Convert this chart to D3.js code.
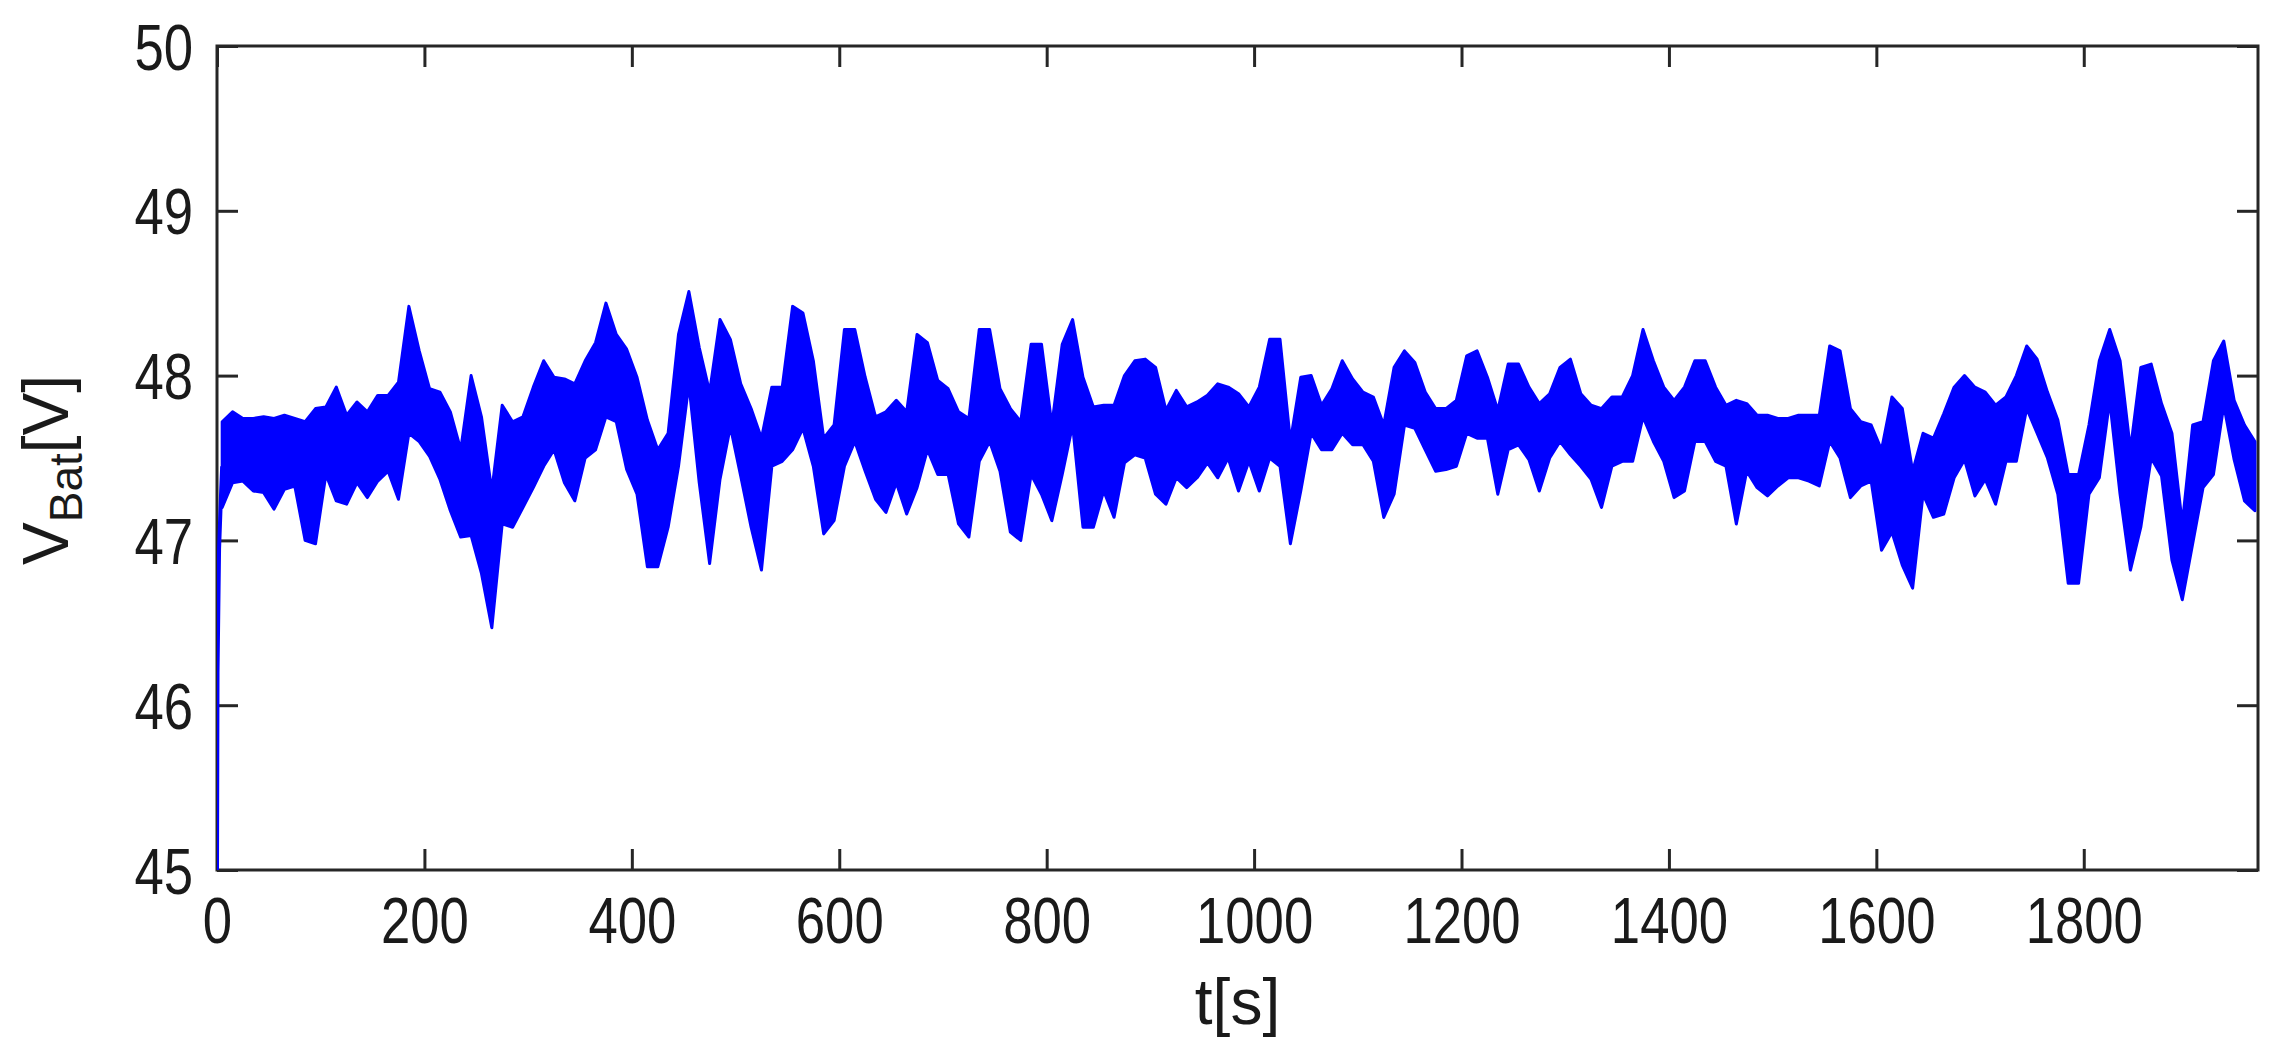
<!DOCTYPE html>
<html><head><meta charset="utf-8">
<script src="https://cdn.jsdelivr.net/npm/d3@7"></script>
<style>html,body{margin:0;padding:0;background:#fff;} svg{display:block;}</style>
</head><body><svg id="chart" width="2277" height="1053"></svg>
<script>
// ---- data (10 s bins: min / max of the noisy battery voltage) ----
const binStart = [0,10,20,30,40,50,60,70,80,90,100,110,120,130,140,150,160,170,180,190,
200,210,220,230,240,250,260,270,280,290,300,310,320,330,340,350,360,370,380,390,
400,410,420,430,440,450,460,470,480,490,500,510,520,530,540,550,560,570,580,590,
600,610,620,630,640,650,660,670,680,690,700,710,720,730,740,750,760,770,780,790,
800,810,820,830,840,850,860,870,880,890,900,910,920,930,940,950,960,970,980,990,
1000,1010,1020,1030,1040,1050,1060,1070,1080,1090,1100,1110,1120,1130,1140,1150,1160,1170,1180,1190,
1200,1210,1220,1230,1240,1250,1260,1270,1280,1290,1300,1310,1320,1330,1340,1350,1360,1370,1380,1390,
1400,1410,1420,1430,1440,1450,1460,1470,1480,1490,1500,1510,1520,1530,1540,1550,1560,1570,1580,1590,
1600,1610,1620,1630,1640,1650,1660,1670,1680,1690,1700,1710,1720,1730,1740,1750,1760,1770,1780,1790,
1800,1810,1820,1830,1840,1850,1860,1870,1880,1890,1900,1910,1920,1930,1940,1950,1960];
const vMax = [47.72,47.78,47.74,47.74,47.75,47.74,47.76,47.74,47.72,47.80,47.81,47.93,47.76,47.84,47.78,47.88,47.88,47.96,48.42,48.15,
47.92,47.90,47.78,47.55,48.00,47.75,47.30,47.82,47.72,47.75,47.93,48.09,47.99,47.98,47.95,48.09,48.20,48.44,48.25,48.16,
47.99,47.73,47.55,47.65,48.25,48.51,48.17,47.90,48.34,48.22,47.95,47.80,47.62,47.93,47.93,48.42,48.38,48.09,47.62,47.70,
48.28,48.28,47.99,47.75,47.78,47.85,47.78,48.25,48.20,47.97,47.92,47.78,47.74,48.28,48.28,47.92,47.80,47.72,48.19,48.19,
47.70,48.19,48.34,47.99,47.81,47.82,47.82,48.00,48.09,48.10,48.05,47.79,47.91,47.81,47.84,47.88,47.95,47.93,47.89,47.81,
47.93,48.22,48.22,47.60,47.99,48.00,47.82,47.92,48.09,47.98,47.90,47.87,47.70,48.05,48.15,48.08,47.90,47.80,47.80,47.85,
48.12,48.15,47.99,47.79,48.07,48.07,47.93,47.83,47.89,48.05,48.10,47.89,47.82,47.80,47.87,47.87,48.00,48.28,48.09,47.93,
47.85,47.93,48.09,48.09,47.93,47.82,47.85,47.83,47.76,47.76,47.74,47.74,47.76,47.76,47.76,48.18,48.15,47.80,47.72,47.70,
47.55,47.87,47.80,47.42,47.65,47.62,47.77,47.93,48.00,47.93,47.90,47.82,47.87,48.00,48.18,48.10,47.90,47.73,47.40,47.40,
47.70,48.09,48.28,48.09,47.55,48.05,48.07,47.83,47.65,47.10,47.70,47.72,48.09,48.21,47.85,47.70,47.60];
const vMin = [47.20,47.35,47.36,47.30,47.29,47.19,47.31,47.33,47.00,46.98,47.40,47.24,47.22,47.35,47.26,47.36,47.42,47.25,47.65,47.60,
47.51,47.37,47.18,47.02,47.03,46.80,46.47,47.10,47.08,47.20,47.32,47.45,47.55,47.35,47.24,47.50,47.55,47.75,47.72,47.43,
47.28,46.84,46.84,47.08,47.45,47.95,47.35,46.86,47.37,47.69,47.39,47.08,46.82,47.45,47.48,47.55,47.68,47.45,47.04,47.12,
47.45,47.60,47.42,47.25,47.17,47.35,47.16,47.32,47.55,47.40,47.40,47.10,47.02,47.48,47.60,47.42,47.05,47.00,47.40,47.28,
47.12,47.40,47.70,47.08,47.08,47.30,47.14,47.47,47.52,47.50,47.28,47.22,47.38,47.32,47.38,47.47,47.38,47.50,47.30,47.48,
47.30,47.50,47.45,46.98,47.30,47.65,47.55,47.55,47.65,47.58,47.58,47.48,47.14,47.28,47.70,47.68,47.55,47.42,47.43,47.45,
47.65,47.62,47.62,47.28,47.55,47.58,47.49,47.30,47.50,47.60,47.52,47.45,47.37,47.20,47.45,47.48,47.48,47.75,47.60,47.48,
47.26,47.30,47.60,47.60,47.48,47.45,47.10,47.42,47.32,47.27,47.33,47.38,47.38,47.36,47.33,47.60,47.50,47.26,47.33,47.36,
46.94,47.05,46.85,46.71,47.28,47.14,47.16,47.38,47.49,47.27,47.37,47.22,47.48,47.48,47.80,47.65,47.50,47.28,46.74,46.74,
47.28,47.38,47.85,47.28,46.82,47.08,47.50,47.39,46.88,46.64,46.98,47.32,47.40,47.82,47.49,47.24,47.18];
// start-up transient at the very left edge
const startT = [0, 0.5, 2, 4, 5];
const startV = [45.0, 46.2, 46.95, 47.3, 47.45];
const binWidth = 10;
const xTicks = [0,200,400,600,800,1000,1200,1400,1600,1800];
const yTicks = [45,46,47,48,49,50];
const xDomain = [0, 1968];
const yDomain = [45, 50];
const xLabelText = "t[s]";
const yLabelMain = "V", yLabelSub = "Bat", yLabelUnit = "[V]";

// ---- drawing ----
const svg = d3.select("#chart");
const m = {left:217, right:2258, top:46, bottom:870};
const x = d3.scaleLinear().domain(xDomain).range([m.left, m.right]);
const y = d3.scaleLinear().domain(yDomain).range([m.bottom, m.top]);
const axisColor = "#262626";
const FONT = "'Liberation Sans', Arial, Helvetica, sans-serif";
const digitW = 29.3;
const tick = 21;

svg.append("defs").append("clipPath").attr("id","clip")
  .append("rect").attr("x",m.left).attr("y",m.top).attr("width",m.right-m.left).attr("height",m.bottom-m.top);

function styleTicks(g){
  g.select(".domain").remove();
  g.selectAll(".tick line").attr("stroke",axisColor).attr("stroke-width",3);
}
// bottom
const gx = svg.append("g").attr("transform",`translate(0,${m.bottom})`)
  .call(d3.axisBottom(x).tickValues(xTicks).tickSize(-tick).tickPadding(0).tickFormat(d3.format("d")));
styleTicks(gx);
gx.selectAll(".tick text").attr("y",73).attr("dy",null)
  .attr("font-family",FONT).attr("font-size",64).attr("fill","#1a1a1a")
  .attr("textLength",d=>String(d).length*digitW).attr("lengthAdjust","spacingAndGlyphs");
// top (mirrored ticks)
const gt = svg.append("g").attr("transform",`translate(0,${m.top})`)
  .call(d3.axisTop(x).tickValues(xTicks).tickSize(-tick).tickFormat(""));
styleTicks(gt);
// left
const gy = svg.append("g").attr("transform",`translate(${m.left},0)`)
  .call(d3.axisLeft(y).tickValues(yTicks).tickSize(-tick).tickPadding(0).tickFormat(d3.format("d")));
styleTicks(gy);
gy.selectAll(".tick text").attr("x",-24).attr("y",23).attr("dy",null)
  .attr("font-family",FONT).attr("font-size",64).attr("fill","#1a1a1a")
  .attr("textLength",d=>String(d).length*digitW).attr("lengthAdjust","spacingAndGlyphs");
// right (mirrored ticks)
const gr = svg.append("g").attr("transform",`translate(${m.right},0)`)
  .call(d3.axisRight(y).tickValues(yTicks).tickSize(-tick).tickFormat(""));
styleTicks(gr);

// frame
svg.append("rect").attr("x",m.left).attr("y",m.top).attr("width",m.right-m.left).attr("height",m.bottom-m.top)
  .attr("fill","none").attr("stroke",axisColor).attr("stroke-width",3);

// data
const bins = binStart.map((t,i)=>({t:t+binWidth/2, lo:vMin[i], hi:vMax[i]}));
const plot = svg.append("g").attr("clip-path","url(#clip)");
plot.append("path").datum(bins)
  .attr("d", d3.area().x(d=>x(d.t)).y0(d=>y(d.lo)).y1(d=>y(d.hi)))
  .attr("fill","#0000ff").attr("stroke","#0000ff").attr("stroke-width",3).attr("stroke-linejoin","round");
plot.append("path").datum(startT.map((t,i)=>({t, v:startV[i]})))
  .attr("d", d3.line().x(d=>x(d.t)).y(d=>y(d.v)))
  .attr("fill","none").attr("stroke","#0000ff").attr("stroke-width",4);

// axis labels
svg.append("text").attr("x",(m.left+m.right)/2).attr("y",1024)
  .attr("text-anchor","middle").attr("font-family",FONT).attr("font-size",64).attr("fill","#1a1a1a")
  .text(xLabelText);
const yl = svg.append("text").attr("transform",`translate(68,470) rotate(-90)`)
  .attr("text-anchor","middle").attr("font-family",FONT).attr("font-size",64).attr("fill","#1a1a1a");
yl.append("tspan").text(yLabelMain);
yl.append("tspan").attr("font-size",46).attr("dy",14).text(yLabelSub);
yl.append("tspan").attr("dy",-14).text(yLabelUnit);
</script>
</body></html>
